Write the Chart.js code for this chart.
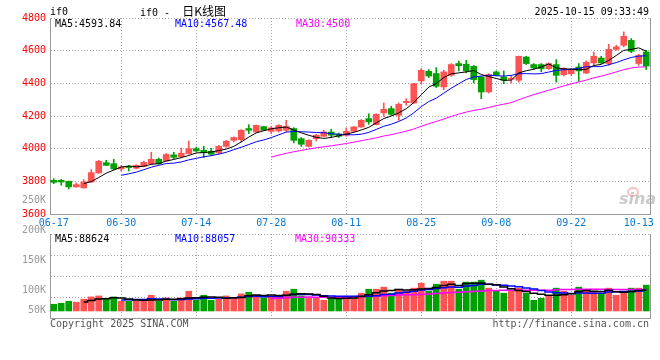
<!DOCTYPE html>
<html><head><meta charset="utf-8">
<script src="https://cdn.jsdelivr.net/npm/chart.js@4.4.1/dist/chart.umd.min.js"></script>
<style>
html,body{margin:0;padding:0;background:#fff;}
#wrap{position:relative;width:660px;height:360px;overflow:hidden;font-family:"DejaVu Sans Mono",monospace;font-size:10px;}
canvas{position:absolute;left:0;top:0;}
.t{position:absolute;white-space:pre;line-height:12px;font-size:10px;font-family:"DejaVu Sans Mono",monospace;z-index:5;}
</style></head><body>
<div id="wrap">
<canvas id="main" width="660" height="360"></canvas>
<canvas id="vol" width="660" height="360"></canvas>
<div class="t" style="left:50px;top:6px;">if0</div>
<div class="t" style="left:140px;top:5px;">if0 - <span style="font-family:'Noto Sans CJK SC';font-size:12px;margin-left:6px;">日K线图</span></div>
<div class="t" style="right:11px;top:6px;">2025-10-15 09:33:49</div>
<div class="t" id="lp0" style="left:55px;top:18px;color:#000;"></div>
<div class="t" id="lp1" style="left:175px;top:18px;color:#0000ff;"></div>
<div class="t" id="lp2" style="left:296px;top:18px;color:#ff00ff;"></div>
<div class="t" id="lv0" style="left:55px;top:233px;color:#000;"></div>
<div class="t" id="lv1" style="left:175px;top:233px;color:#0000ff;"></div>
<div class="t" id="lv2" style="left:295px;top:233px;color:#ff00ff;"></div>
<div class="t" style="left:50px;top:318px;color:#555;">Copyright 2025 SINA.COM</div>
<div class="t" style="right:11px;top:318px;color:#555;">http://finance.sina.com.cn</div>
<div style="position:absolute;left:627px;top:187px;width:8px;height:6px;border:2px solid rgba(235,120,120,0.45);border-radius:50%;z-index:4;"></div>
<div class="t" style="left:619px;top:192px;font:italic bold 16px 'DejaVu Sans';line-height:14px;color:rgba(160,160,160,0.55);">sina</div>
</div>
<script>
// ---- data ----
const dates = ['06-17','06-18','06-19','06-20','06-23','06-24','06-25','06-26','06-27','06-30',
 '07-01','07-02','07-03','07-04','07-07','07-08','07-09','07-10','07-11','07-14',
 '07-15','07-16','07-17','07-18','07-21','07-22','07-23','07-24','07-25','07-28',
 '07-29','07-30','07-31','08-01','08-04','08-05','08-06','08-07','08-08','08-11',
 '08-12','08-13','08-14','08-15','08-18','08-19','08-20','08-21','08-22','08-25',
 '08-26','08-27','08-28','08-29','09-01','09-02','09-03','09-04','09-05','09-08',
 '09-09','09-10','09-11','09-12','09-15','09-16','09-17','09-18','09-19','09-22',
 '09-23','09-24','09-25','09-26','09-29','09-30','10-09','10-10','10-13','10-14'];
const open = [3806,3806,3800,3766,3760,3796,3851,3914,3908,3876,
 3892,3880,3892,3908,3935,3925,3962,3951,3970,4000,
 3990,3984,3974,4014,4051,4055,4123,4102,4135,4106,
 4108,4113,4123,4061,4014,4061,4076,4102,4090,4082,
 4106,4133,4184,4147,4219,4245,4204,4282,4280,4415,
 4474,4460,4378,4449,4521,4517,4504,4439,4347,4470,
 4439,4425,4419,4561,4515,4515,4490,4515,4453,4459,
 4500,4463,4525,4555,4521,4608,4633,4663,4521,4592];
const high = [3816,3812,3802,3790,3810,3872,3929,3929,3935,3898,
 3898,3902,3923,3978,3943,3970,3978,4004,4047,4010,
 4014,4002,4020,4051,4072,4117,4147,4145,4137,4137,
 4147,4174,4129,4068,4055,4088,4113,4119,4096,4127,
 4137,4178,4214,4214,4280,4260,4280,4306,4400,4490,
 4484,4496,4480,4521,4537,4541,4510,4443,4459,4476,
 4476,4449,4566,4566,4521,4521,4525,4545,4496,4490,
 4521,4537,4592,4566,4639,4633,4715,4674,4578,4602];
const low = [3786,3776,3753,3764,3758,3794,3849,3896,3870,3863,
 3863,3876,3888,3904,3904,3923,3939,3943,3966,3980,
 3945,3957,3966,4008,4041,4041,4092,4100,4111,4092,
 4102,4102,4035,4014,4010,4047,4072,4068,4068,4076,
 4102,4129,4149,4145,4198,4204,4174,4266,4276,4398,
 4435,4374,4361,4443,4476,4464,4402,4306,4341,4445,
 4398,4402,4408,4515,4484,4470,4484,4408,4445,4449,
 4412,4459,4510,4521,4510,4602,4623,4588,4510,4484];
const close = [3794,3796,3766,3780,3796,3853,3923,3898,3876,3888,
 3884,3898,3916,3935,3908,3964,3947,3972,4000,3986,
 3976,3966,4014,4045,4068,4113,4113,4143,4113,4127,
 4143,4137,4051,4027,4051,4082,4102,4082,4076,4106,
 4133,4174,4164,4210,4241,4210,4272,4290,4398,4480,
 4445,4382,4470,4515,4508,4476,4423,4347,4453,4449,
 4419,4431,4566,4521,4494,4490,4521,4449,4490,4484,
 4476,4529,4566,4525,4608,4623,4688,4596,4571,4506];
const volume = [62300,64100,67800,66000,71500,75700,77500,71500,75700,67800,
 67800,67800,67800,78800,67800,73900,67800,73900,86100,69600,
 78800,69600,71500,77500,73900,81200,84300,78800,73900,77000,
 77000,86100,89800,77500,73900,73900,69600,73300,72800,77000,
 77000,82500,89800,89800,93500,82500,89800,86100,91700,100800,
 86100,99000,104500,104500,89800,102700,102700,106300,91700,86100,
 82500,86100,91700,82500,69600,73300,77000,91700,86100,78800,
 93500,86100,86100,82500,91700,78800,82500,91700,91700,97200];
const xTickDates = ['06-17','06-30','07-14','07-28','08-11','08-25','09-08','09-22','10-13'];
const priceTicks = {min:3600, max:4800, step:200};
const volTickLabels = ['250K','200K','150K','100K','50K'];
const volTickValues = [250000,200000,150000,100000,50000];
const maPeriods = [5,10,30];
const priceLegend = ['MA5:4593.84','MA10:4567.48','MA30:4500'];
const volLegend = ['MA5:88624','MA10:88057','MA30:90333'];

// ---- styling ----
const UP = '#ff5252', DOWN = '#00a000';
const maColors = ['#000000','#0000ff','#ff00ff'];
const GRID = '#a8a8a8', AXIS = '#999999';
const FONT = {family:'"DejaVu Sans Mono", monospace', size:10};

priceLegend.forEach((s,k)=>document.getElementById('lp'+k).textContent = s);
volLegend.forEach((s,k)=>document.getElementById('lv'+k).textContent = s);

function movingAverage(arr, n){
  return arr.map((_, i) => {
    if (i < n - 1) return null;
    let s = 0; for (let j = i - n + 1; j <= i; j++) s += arr[j];
    return s / n;
  });
}
const isUp = i => close[i] >= open[i];
const candleColor = c => isUp(c.dataIndex) ? UP : DOWN;
const tickSet = new Set(xTickDates);
const lastTick = xTickDates[xTickDates.length-1];
const gridColorX = c => {
  const d = dates[c.index];
  return (tickSet.has(d) && d !== xTickDates[0] && d !== lastTick) ? GRID : 'rgba(0,0,0,0)';
};
const rightBorder = {position:'right', display:true, grid:{drawOnChartArea:false, drawTicks:false},
  ticks:{display:false}, border:{color:AXIS}, afterFit(s){ s.width = 0; }};

Chart.defaults.font.family = FONT.family;

new Chart(document.getElementById('main'), {
  type:'bar',
  data:{
    labels: dates,
    datasets:[
      ...maPeriods.map((n,k)=>({type:'line', data: movingAverage(close,n), borderColor: maColors[k],
        borderWidth:1, pointRadius:0, tension:0, order:0, spanGaps:false})),
      {data: dates.map((_,i)=>[open[i], close[i]]), backgroundColor: candleColor, barThickness:6,
        minBarLength:1, grouped:false, order:1, borderWidth:0},
      {data: dates.map((_,i)=>[low[i], high[i]]), backgroundColor: candleColor, barThickness:1,
        grouped:false, order:2, borderWidth:0}
    ]
  },
  options:{
    responsive:false, animation:false, events:[],
    layout:{padding:{top:18, right:10, bottom:126, left:0}},
    plugins:{legend:{display:false}, tooltip:{enabled:false}},
    scales:{
      x:{offset:true, grid:{offset:false, color:gridColorX, drawTicks:false}, border:{color:AXIS, dash:[1,2]},
        ticks:{autoSkip:false, maxRotation:0, minRotation:0, color:'#0a78d2', font:FONT, padding:3,
          callback:(v,i)=> tickSet.has(dates[i]) ? dates[i] : ''},
        afterFit(s){ s.height = 20; }},
      y:{min:priceTicks.min, max:priceTicks.max, grid:{color:GRID, drawTicks:false}, border:{color:AXIS, dash:[1,2]},
        ticks:{stepSize:priceTicks.step, color:'#ff0000', font:FONT, padding:4, callback:v=>String(v)},
        afterFit(s){ s.width = 50; }},
      yR: rightBorder
    }
  }
});

const volMin = 37160, volMax = 190700;
const volLabelPlugin = {
  id:'volLabels',
  afterDraw(chart){
    const s = chart.scales.yLab, ctx = chart.ctx, a = chart.chartArea;
    ctx.save();
    ctx.font = '10px "DejaVu Sans Mono"'; ctx.fillStyle = '#999'; ctx.textAlign = 'right'; ctx.textBaseline = 'middle';
    volTickValues.forEach((v,k)=>{
      const y = Math.min(s.getPixelForValue(v), a.bottom - 8);
      ctx.fillText(volTickLabels[k], a.left - 4, y);
    });
    ctx.restore();
  }
};

new Chart(document.getElementById('vol'), {
  type:'bar',
  data:{
    labels: dates,
    datasets:[
      ...maPeriods.map((n,k)=>({type:'line', data: movingAverage(volume,n), borderColor: maColors[k],
        borderWidth:1.5, pointRadius:0, tension:0, stepped:'middle', order:0})),
      {data: volume, base:50000, backgroundColor: candleColor, barThickness:6, grouped:false, order:1, borderWidth:0}
    ]
  },
  options:{
    responsive:false, animation:false, events:[],
    layout:{padding:{top:234, right:10, bottom:42, left:0}},
    plugins:{legend:{display:false}, tooltip:{enabled:false}},
    scales:{
      x:{offset:true, grid:{offset:false, color:gridColorX, drawTicks:false}, border:{color:AXIS, dash:[1,2]},
        ticks:{display:false, autoSkip:false}, afterFit(s){ s.height = 0; }},
      y:{min:volMin, max:volMax, grid:{color:GRID, drawTicks:false}, border:{color:AXIS, dash:[1,2]},
        ticks:{display:false},
        afterBuildTicks(s){ s.ticks = [0,1,2,3,4].map(k=>({value: volMin + k*(volMax-volMin)/4})); },
        afterFit(s){ s.width = 50; }},
      yLab:{display:false, min:53500, max:194000},
      yR: rightBorder
    }
  },
  plugins:[volLabelPlugin]
});
</script>
</body></html>
